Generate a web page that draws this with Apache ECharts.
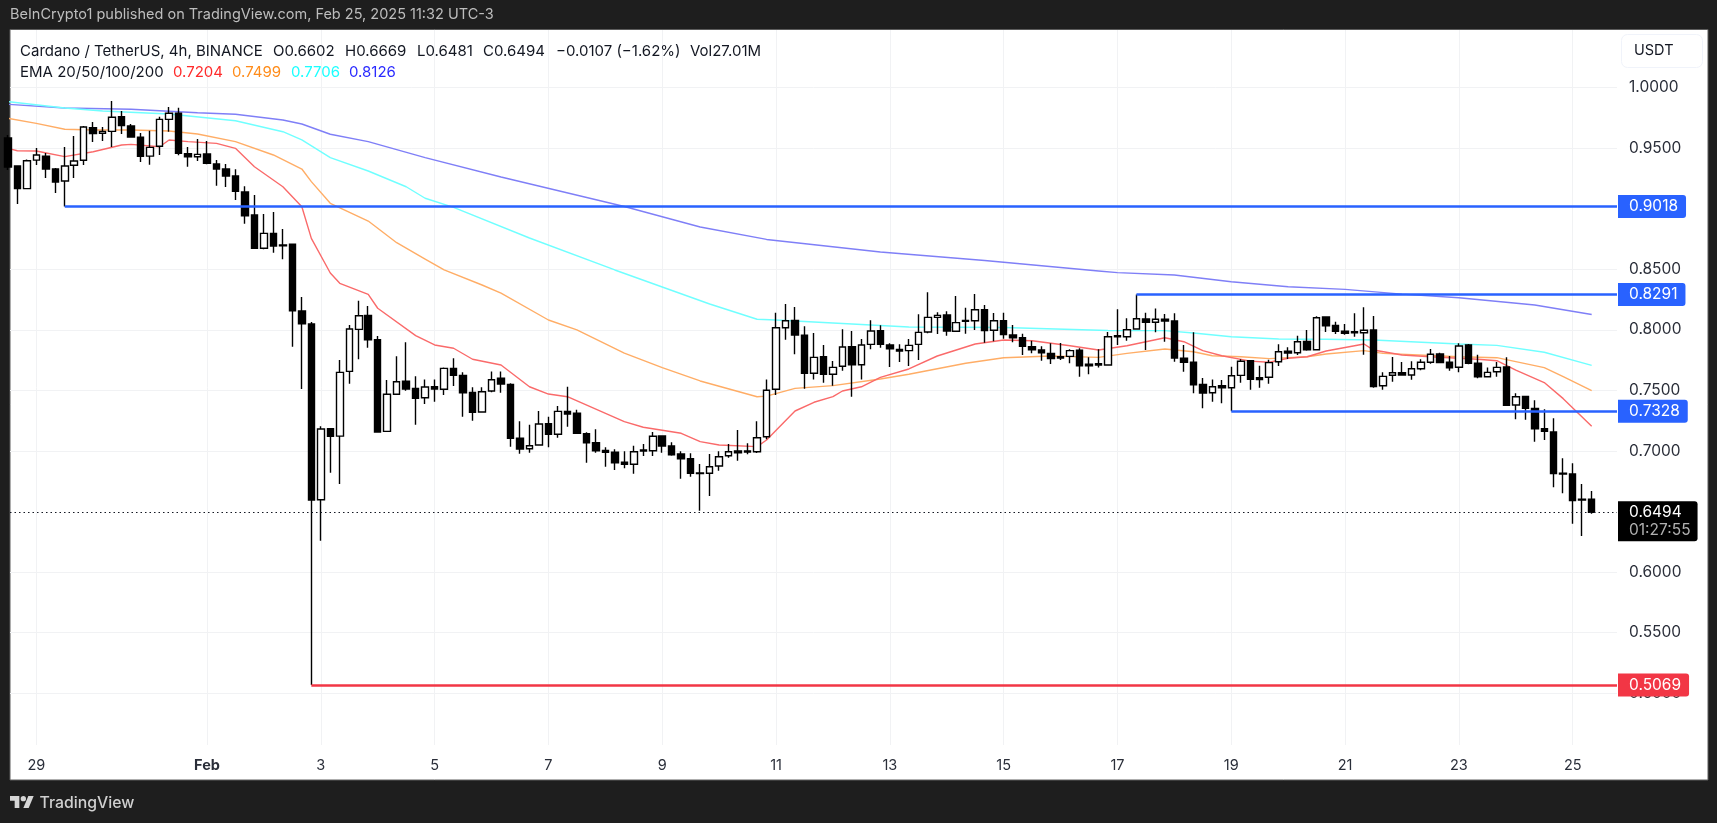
<!DOCTYPE html>
<html><head><meta charset="utf-8"><style>html,body{margin:0;padding:0;background:#1e1e1e}#c{width:1717px;height:823px}</style>
<script src="https://cdn.jsdelivr.net/npm/echarts@6/dist/echarts.min.js"></script></head><body><div id="c"></div><script>
// 4h candles, one row per bar: open, close, low, high
const candles=[
[.9583,.9344,.9319,.9608],[.9352,.9165,.9038,.9352],[.9165,.9396,.9165,.9406],[.9401,.9443,.9360,.9500],[.9434,.9327,.9253,.9459],[.9327,.9220,.9129,.9335],
[.9228,.9352,.9018,.9509],[.9358,.9393,.9253,.9600],[.9399,.9674,.9360,.9682],[.9668,.9619,.9550,.9715],[.9622,.9638,.9558,.9674],[.9638,.9754,.9509,.9888],
[.9759,.9685,.9616,.9806],[.9682,.9591,.9591,.9699],[.9589,.9432,.9385,.9624],[.9434,.9506,.9363,.9643],[.9515,.9737,.9443,.9759],[.9737,.9787,.9635,.9839],
[.9787,.9457,.9440,.9833],[.9454,.9429,.9346,.9509],[.9429,.9448,.9393,.9575],[.9451,.9374,.9366,.9558],[.9369,.9327,.9189,.9401],[.9327,.9269,.9179,.9369],
[.9269,.9143,.9071,.9325],[.9137,.8942,.8876,.9184],[.8948,.8673,.8667,.9113],[.8673,.8796,.8665,.8956],[.8796,.8692,.8636,.8972],[.8700,.8694,.8582,.8832],
[.8706,.8158,.7861,.8708],[.8155,.8050,.7511,.8271],[.8048,.6595,.5069,.8064],[.6598,.7181,.6259,.7204],[.7184,.7121,.6821,.7190],[.7123,.7649,.6727,.7751],
[.7657,.8007,.7555,.8040],[.8004,.8116,.7757,.8240],[.8119,.7918,.7852,.8196],[.7918,.7156,.7151,.7949],[.7162,.7468,.7162,.7586],[.7468,.7572,.7462,.7781],
[.7575,.7511,.7497,.7897],[.7517,.7435,.7217,.7616],[.7439,.7528,.7388,.7591],[.7530,.7511,.7407,.7591],[.7509,.7682,.7462,.7690],[.7682,.7624,.7536,.7765],
[.7624,.7481,.7283,.7649],[.7484,.7319,.7250,.7525],[.7322,.7489,.7319,.7525],[.7495,.7588,.7484,.7657],[.7600,.7553,.7481,.7657],[.7550,.7105,.7035,.7558],
[.7105,.7016,.6977,.7245],[.7019,.7043,.6986,.7217],[.7049,.7223,.7049,.7330],[.7225,.7138,.7030,.7283],[.7138,.7327,.7109,.7371],[.7327,.7305,.7200,.7530],
[.7311,.7146,.7146,.7341],[.7143,.7068,.6903,.7154],[.7068,.7002,.6986,.7179],[.7005,.6989,.6870,.7030],[.6989,.6903,.6843,.7014],[.6907,.6890,.6857,.6997],
[.6890,.6994,.6812,.7043],[.7008,.7000,.6958,.7057],[.7002,.7121,.6958,.7156],[.7124,.7041,.6986,.7129],[.7041,.6969,.6961,.7072],[.6975,.6936,.6771,.6997],
[.6936,.6816,.6788,.6981],[.6818,.6813,.6507,.6892],[.6816,.6870,.6628,.6975],[.6876,.6953,.6837,.6997],[.6961,.6994,.6945,.7057],[.7000,.6986,.6920,.7173],
[.7000,.6992,.6972,.7063],[.6994,.7109,.6983,.7245],[.7118,.7501,.7096,.7591],[.7509,.8017,.7462,.8141],[.8017,.8075,.7918,.8213],[.8078,.7957,.7798,.8188],
[.7955,.7641,.7514,.8029],[.7641,.7773,.7591,.7974],[.7778,.7633,.7563,.7875],[.7633,.7690,.7539,.7742],[.7699,.7858,.7662,.8004],[.7861,.7712,.7448,.7990],
[.7712,.7875,.7591,.7924],[.7880,.7990,.7839,.8078],[.7993,.7880,.7852,.8037],[.7875,.7844,.7693,.7889],[.7839,.7825,.7734,.7880],[.7828,.7872,.7701,.7924],
[.7880,.7979,.7751,.8128],[.7982,.8103,.7971,.8310],[.8103,.8119,.7965,.8144],[.8122,.7990,.7951,.8153],[.7988,.8059,.7988,.8279],[.8078,.8070,.7968,.8182],
[.8075,.8166,.7998,.8295],[.8166,.7993,.7894,.8205],[.7996,.8075,.7905,.8139],[.8075,.7960,.7927,.8141],[.7957,.7935,.7897,.8040],[.7935,.7864,.7792,.7968],
[.7861,.7836,.7806,.7910],[.7833,.7811,.7745,.7864],[.7806,.7762,.7718,.7889],[.7778,.7767,.7751,.7891],[.7781,.7828,.7724,.7839],[.7831,.7704,.7613,.7847],
[.7716,.7704,.7633,.7773],[.7710,.7720,.7690,.7839],[.7710,.7943,.7710,.7982],[.7943,.7951,.7875,.8169],[.7943,.8001,.7910,.8095],[.8007,.8092,.8007,.8291],
[.8089,.8062,.7833,.8141],[.8062,.8087,.7980,.8177],[.8087,.8073,.7902,.8131],[.8073,.7768,.7737,.8136],[.7765,.7732,.7654,.7875],[.7732,.7547,.7476,.7980],
[.7550,.7478,.7352,.7602],[.7481,.7530,.7407,.7591],[.7539,.7522,.7394,.7586],[.7522,.7621,.7328,.7696],[.7624,.7740,.7563,.7757],[.7745,.7592,.7506,.7749],
[.7605,.7589,.7522,.7704],[.7608,.7729,.7555,.7753],[.7737,.7819,.7701,.7880],[.7823,.7809,.7759,.7856],[.7811,.7902,.7792,.7951],[.7905,.7836,.7828,.7999],
[.7836,.8100,.7833,.8111],[.8106,.8034,.7982,.8111],[.8037,.7988,.7965,.8067],[.7988,.7971,.7960,.8048],[.7985,.7976,.7943,.8136],[.7976,.7996,.7795,.8186],
[.7999,.7531,.7522,.8114],[.7539,.7616,.7506,.7649],[.7625,.7646,.7572,.7776],[.7646,.7627,.7627,.7734],[.7627,.7679,.7588,.7740],[.7679,.7732,.7666,.7757],
[.7732,.7798,.7720,.7842],[.7800,.7729,.7726,.7811],[.7732,.7687,.7663,.7784],[.7691,.7867,.7649,.7889],[.7875,.7724,.7716,.7883],[.7724,.7613,.7600,.7795],
[.7613,.7649,.7608,.7690],[.7654,.7690,.7613,.7734],[.7693,.7377,.7377,.7773],[.7380,.7448,.7262,.7476],[.7451,.7352,.7258,.7454],[.7352,.7184,.7077,.7418],
[.7184,.7162,.7091,.7344],[.7157,.6813,.6700,.7270],[.6816,.6810,.6651,.6940],[.6810,.6590,.6400,.6898],[.6601,.6595,.6298,.6727],[.6602,.6494,.6481,.6669]];
// EMA readings: [bar, price]
const ema20=[[0,.9498],[1,.9478],[3,.9476],[6,.9429],[9,.9470],[12,.9525],[13,.9531],[16,.9511],[17,.9567],[19,.9553],[22,.9539],[24,.9498],[26,.9346],[29,.9181],[31,.9016],[32,.8755],[34,.8469],[35,.8384],[38,.8293],[39,.8178],[43,.7952],[45,.7875],[47,.7848],[49,.7757],[52,.7710],[55,.7530],[57,.7470],[59,.7448],[65,.7242],[67,.7196],[71,.7146],[73,.7077],[75,.7049],[79,.7036],[80,.7091],[83,.7330],[85,.7402],[87,.7448],[88,.7495],[90,.7530],[92,.7608],[95,.7677],[98,.7784],[102,.7883],[105,.7916],[108,.7910],[112,.7869],[115,.7833],[118,.7869],[120,.7902],[122,.7935],[124,.7902],[126,.7828],[128,.7786],[131,.7742],[133,.7732],[135,.7765],[137,.7778],[139,.7825],[143,.7883],[144,.7833],[147,.7792],[150,.7778],[155,.7757],[157,.7745],[159,.7668],[162,.7565],[164,.7432],[167,.7204]];
const ema50=[[0,.9746],[3,.9704],[6,.9655],[9,.9649],[13,.9649],[17,.9641],[20,.9616],[24,.9553],[28,.9443],[31,.9327],[32,.9223],[34,.9044],[38,.8898],[41,.8719],[44,.8584],[46,.8494],[50,.8370],[52,.8302],[57,.8081],[60,.7999],[65,.7807],[69,.7688],[73,.7578],[79,.7448],[80,.7453],[83,.7517],[87,.7539],[92,.7594],[95,.7633],[101,.7724],[105,.7770],[110,.7784],[115,.7773],[118,.7806],[122,.7842],[125,.7819],[127,.7786],[130,.7778],[133,.7762],[137,.7778],[139,.7800],[143,.7828],[145,.7806],[153,.7778],[157,.7770],[162,.7688],[164,.7613],[167,.7499]];
const ema100=[[0,.9883],[6,.9831],[10,.9806],[17,.9781],[24,.9726],[29,.9635],[31,.9567],[34,.9421],[38,.9311],[42,.9181],[44,.9086],[47,.9010],[55,.8758],[64,.8494],[74,.8213],[79,.8087],[81,.8081],[87,.8056],[95,.8023],[105,.8019],[116,.7995],[122,.7993],[125,.7974],[129,.7943],[134,.7924],[139,.7922],[144,.7916],[153,.7883],[157,.7872],[162,.7815],[167,.7706]];
const ema200=[[0,.9861],[6,.9831],[13,.9820],[20,.9792],[24,.9779],[29,.9732],[31,.9699],[34,.9614],[38,.9553],[44,.9421],[52,.9261],[65,.9018],[73,.8849],[80,.8746],[92,.8642],[103,.8572],[115,.8486],[117,.8472],[123,.8453],[129,.8397],[135,.8356],[141,.8334],[147,.8295],[153,.8265],[161,.8205],[167,.8126]];
const levelPrices=[.9018,.8291,.7328,.5069];
const levelStartBars=[6,119,129,32];
const levelColors=['#2962ff','#2962ff','#2962ff','#f23645'];
const lastPrice=.6494, countdown='01:27:55';
const dayBars=[3,21,33,45,57,69,81,93,105,117,129,141,153,165];
const dayLabels=['29','Feb','3','5','7','9','11','13','15','17','19','21','23','25'];
const priceTicksShown=[.5,.55,.6,.7,.75,.8,.85,.95,1];
const emaColors=['#fa6a6a','#ffad66','#70ffff','#7f7ff7'];
const legendColors=['#ff2a2a','#ff8c1a','#1affff','#2a2aff'];
const emaLast=['0.7204','0.7499','0.7706','0.8126'];

const F='Inter,"Liberation Sans",sans-serif';
const xMin=.227,xMax=169.67;
const chart=echarts.init(document.getElementById('c'),null,{renderer:'canvas'});
const txt=(text,x,y,fill,size,weight)=>({type:'text',z:50,silent:true,x,y,style:{text,fill,font:(weight||400)+' '+(size||14)+'px '+F,verticalAlign:'middle',align:'left'}});
const emaSeries=(d,c)=>({type:'line',data:d,z:1,showSymbol:false,symbol:'none',smooth:false,lineStyle:{color:c,width:1.4},silent:true,animation:false});
const grid=['#f1f2f4'];
const logoStyle={fill:'#d6d6d6'};
const H=15;
chart.setOption({
 animation:false,backgroundColor:'#1e1e1e',
 grid:{left:10,right:100,top:30,bottom:78},
 xAxis:{type:'value',min:xMin,max:xMax,
  axisLine:{show:false},axisTick:{show:false,customValues:dayBars},
  splitLine:{show:true,lineStyle:{color:grid,width:1}},
  axisLabel:{customValues:dayBars,margin:13,fontFamily:F,fontSize:14.5,color:'#2a2e39',
   formatter:v=>{const s=dayLabels[dayBars.indexOf(v)];return s==='Feb'?'{b|'+s+'}':s;},
   rich:{b:{fontWeight:700,fontFamily:F,fontSize:14.5,color:'#2a2e39'}}}},
 yAxis:{type:'value',position:'right',min:.45733,max:1.04746,
  axisLine:{show:false},axisTick:{show:false,customValues:priceTicksShown},
  splitLine:{show:true,lineStyle:{color:grid,width:1}},
  axisLabel:{customValues:priceTicksShown,margin:12,align:'left',fontFamily:F,fontSize:15.5,color:'#2a2e39',padding:[2,0,0,0],formatter:v=>v.toFixed(4)}},
 series:[
  emaSeries(ema200,emaColors[3]),emaSeries(ema100,emaColors[2]),emaSeries(ema50,emaColors[1]),emaSeries(ema20,emaColors[0]),
  {type:'candlestick',z:3,barWidth:7,silent:true,
   encode:{x:0,y:[1,2,3,4]},
   data:candles.map((r,i)=>[i,r[0],r[1],r[2],r[3]]),
   itemStyle:{color:'#ffffff',color0:'#000000',borderColor:'#000000',borderColor0:'#000000',borderWidth:1.4}},
  {type:'line',z:5,data:[],silent:true,
   markLine:{silent:true,symbol:'none',animation:false,clip:false,
    data:levelPrices.map((p,k)=>[
     {coord:[levelStartBars[k],p],lineStyle:{color:levelColors[k],width:2.5,type:'solid'},
      label:{show:true,position:'end',distance:1,formatter:p.toFixed(4),color:'#fff',fontFamily:F,fontSize:15.5,backgroundColor:levelColors[k],padding:[4,8,3,11],borderRadius:[0,3,3,0]}},
     {coord:[xMax,p]}]).concat([[
     {coord:[xMin,lastPrice],lineStyle:{color:'#131722',width:1,type:[1.5,3]},
      label:{show:true,position:'end',distance:1,offset:[0,9],formatter:'{a|'+lastPrice.toFixed(4)+'}\n{t|'+countdown+'}',backgroundColor:'#000',padding:[2,7,2,11],borderRadius:[0,3,3,0],
       rich:{a:{color:'#fff',fontFamily:F,fontSize:15.5,lineHeight:18},t:{color:'#b0b0b0',fontFamily:F,fontSize:15.5,lineHeight:18}}}},
     {coord:[xMax,lastPrice]}]])}}
 ],
 graphic:{elements:[
  {type:'rect',z:-10,silent:true,shape:{x:10,y:29.5,width:1698,height:750.5},style:{fill:'#fff',stroke:'#5c5c5c',lineWidth:1}},
  {type:'rect',z:40,silent:true,shape:{x:1621.5,y:34.5,width:81,height:33,r:6},style:{fill:'#fff',stroke:'#f0f3fa',lineWidth:1}},
  txt('USDT',1634,51,'#131722',14.5),
  txt('BeInCrypto1 published on TradingView.com, Feb 25, 2025 11:32 UTC-3',10,15,'#bdbdbd',14.5),
  txt('Cardano / TetherUS, 4h, BINANCE',20,51,'#131722',H),
  txt('O0.6602',273,51,'#131722',H),txt('H0.6669',345,51,'#131722',H),txt('L0.6481',417,51,'#131722',H),
  txt('C0.6494',483,51,'#131722',H),txt('\u22120.0107 (\u22121.62%)',556,51,'#131722',H),txt('Vol27.01M',690,51,'#131722',H),
  txt('EMA 20/50/100/200',20,72,'#131722',H),
  txt(emaLast[0],173,72,legendColors[0],H),txt(emaLast[1],232,72,legendColors[1],H),txt(emaLast[2],291,72,legendColors[2],H),txt(emaLast[3],349,72,legendColors[3],H),
  {type:'polygon',z:40,silent:true,x:10,y:793.3,scaleX:.667,scaleY:.667,shape:{points:[[14,22],[7,22],[7,11],[0,11],[0,4],[14,4]]},style:logoStyle},
  {type:'polygon',z:40,silent:true,x:10,y:793.3,scaleX:.667,scaleY:.667,shape:{points:[[28,22],[20,22],[27.5,4],[35.5,4]]},style:logoStyle},
  {type:'circle',z:40,silent:true,x:10,y:793.3,scaleX:.667,scaleY:.667,shape:{cx:20,cy:8,r:4},style:logoStyle},
  txt('TradingView',39.5,803,'#d0d0d0',15.8,500)
 ]}
});
</script></body></html>
